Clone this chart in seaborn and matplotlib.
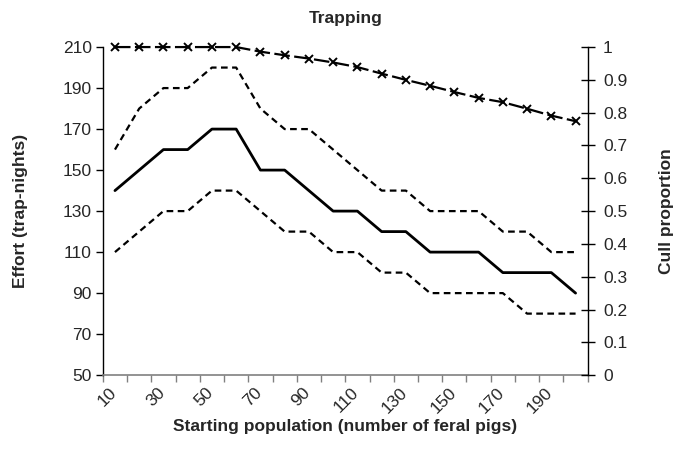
import numpy as np
import pandas as pd
import seaborn as sns
import matplotlib.pyplot as plt
import matplotlib.transforms as mtransforms
from matplotlib.ticker import FixedLocator, NullFormatter

sns.set_style('white')
plt.rcParams['font.family'] = ['Liberation Sans', 'DejaVu Sans']

population = [10, 20, 30, 40, 50, 60, 70, 80, 90, 100,
              110, 120, 130, 140, 150, 160, 170, 180, 190, 200]
effort = [140, 150, 160, 160, 170, 170, 150, 150, 140, 130,
          130, 120, 120, 110, 110, 110, 100, 100, 100, 90]
effort_upper = [160, 180, 190, 190, 200, 200, 180, 170, 170, 160,
                150, 140, 140, 130, 130, 130, 120, 120, 110, 110]
effort_lower = [110, 120, 130, 130, 140, 140, 130, 120, 120, 110,
                110, 100, 100, 90, 90, 90, 90, 80, 80, 80]
cull = [1.0, 1.0, 1.0, 1.0, 1.0, 1.0, 0.986, 0.975, 0.965, 0.953,
        0.939, 0.919, 0.900, 0.882, 0.863, 0.845, 0.832, 0.812, 0.791, 0.774]
x_labels = [10, 30, 50, 70, 90, 110, 130, 150, 170, 190]
left_ticks = [50, 70, 90, 110, 130, 150, 170, 190, 210]
right_ticks = [0, 0.1, 0.2, 0.3, 0.4, 0.5, 0.6, 0.7, 0.8, 0.9, 1]
right_labels = ['0', '0.1', '0.2', '0.3', '0.4', '0.5', '0.6', '0.7', '0.8', '0.9', '1']

df = pd.DataFrame({'pop': population, 'effort': effort, 'upper': effort_upper,
                   'lower': effort_lower, 'cull': cull})

fig, ax = plt.subplots(figsize=(6.81, 4.66), dpi=100)
fig.subplots_adjust(left=0.151, right=0.863, top=0.899, bottom=0.195)

sns.lineplot(data=df, x='pop', y='effort', ax=ax, color='black', lw=2)
sns.lineplot(data=df, x='pop', y='upper', ax=ax, color='black', lw=1.6,
             linestyle=(0, (3, 2)))
sns.lineplot(data=df, x='pop', y='lower', ax=ax, color='black', lw=1.6,
             linestyle=(0, (3, 2)))

ax.set_xlim(5, 205)
ax.set_ylim(50, 210)
ax.yaxis.set_major_locator(FixedLocator(left_ticks))
# category boundaries carry the tick marks, labels sit on every other category
ax.xaxis.set_major_locator(FixedLocator(np.arange(5, 206, 10)))
ax.xaxis.set_major_formatter(NullFormatter())
ax.tick_params(axis='x', length=5, width=1, color='#808080',
               direction='out', bottom=True)
ax.tick_params(axis='y', length=5, width=1, color='black', direction='out',
               left=True, labelsize=12.5, pad=3)

lab_trans = (mtransforms.blended_transform_factory(ax.transData, ax.transAxes)
             + mtransforms.ScaledTranslation(4.5 / 100, -10 / 100, fig.dpi_scale_trans))
for p in x_labels:
    ax.text(p, 0, str(p), transform=lab_trans, rotation=45, ha='right',
            va='top', fontsize=12.5)

ax.spines['top'].set_visible(False)
ax.spines['right'].set_visible(False)
ax.spines['left'].set_color('black')
ax.spines['bottom'].set_color('#808080')
ax.spines['left'].set_linewidth(1)
ax.spines['bottom'].set_linewidth(1.2)

ax.set_xlabel('Starting population (number of feral pigs)', fontsize=12.5,
              fontweight='bold')
ax.xaxis.set_label_coords(0.5, -0.134)
ax.set_ylabel('Effort (trap-nights)', fontsize=12.5, fontweight='bold', labelpad=25)
ax.set_title('Trapping', fontsize=12.5, fontweight='bold', pad=17)

ax2 = ax.twinx()
sns.lineplot(data=df, x='pop', y='cull', ax=ax2, color='black', lw=1.6,
             marker='x', markersize=6, markeredgewidth=1.4,
             markeredgecolor='black', linestyle=(0, (7, 2)), clip_on=False)
ax2.set_ylim(0, 1)
ax2.yaxis.set_major_locator(FixedLocator(right_ticks))
ax2.set_yticklabels(right_labels)
ax2.tick_params(axis='y', length=10, width=1, color='black', direction='inout',
                right=True, labelsize=12.5, pad=6)
ax2.spines['top'].set_visible(False)
ax2.spines['left'].set_visible(False)
ax2.spines['bottom'].set_visible(False)
ax2.spines['right'].set_color('black')
ax2.spines['right'].set_linewidth(1)
ax2.set_ylabel('Cull proportion', fontsize=12.5, fontweight='bold', labelpad=23)
ax2.set_xlim(5, 205)

fig.savefig('out.png', dpi=100)
